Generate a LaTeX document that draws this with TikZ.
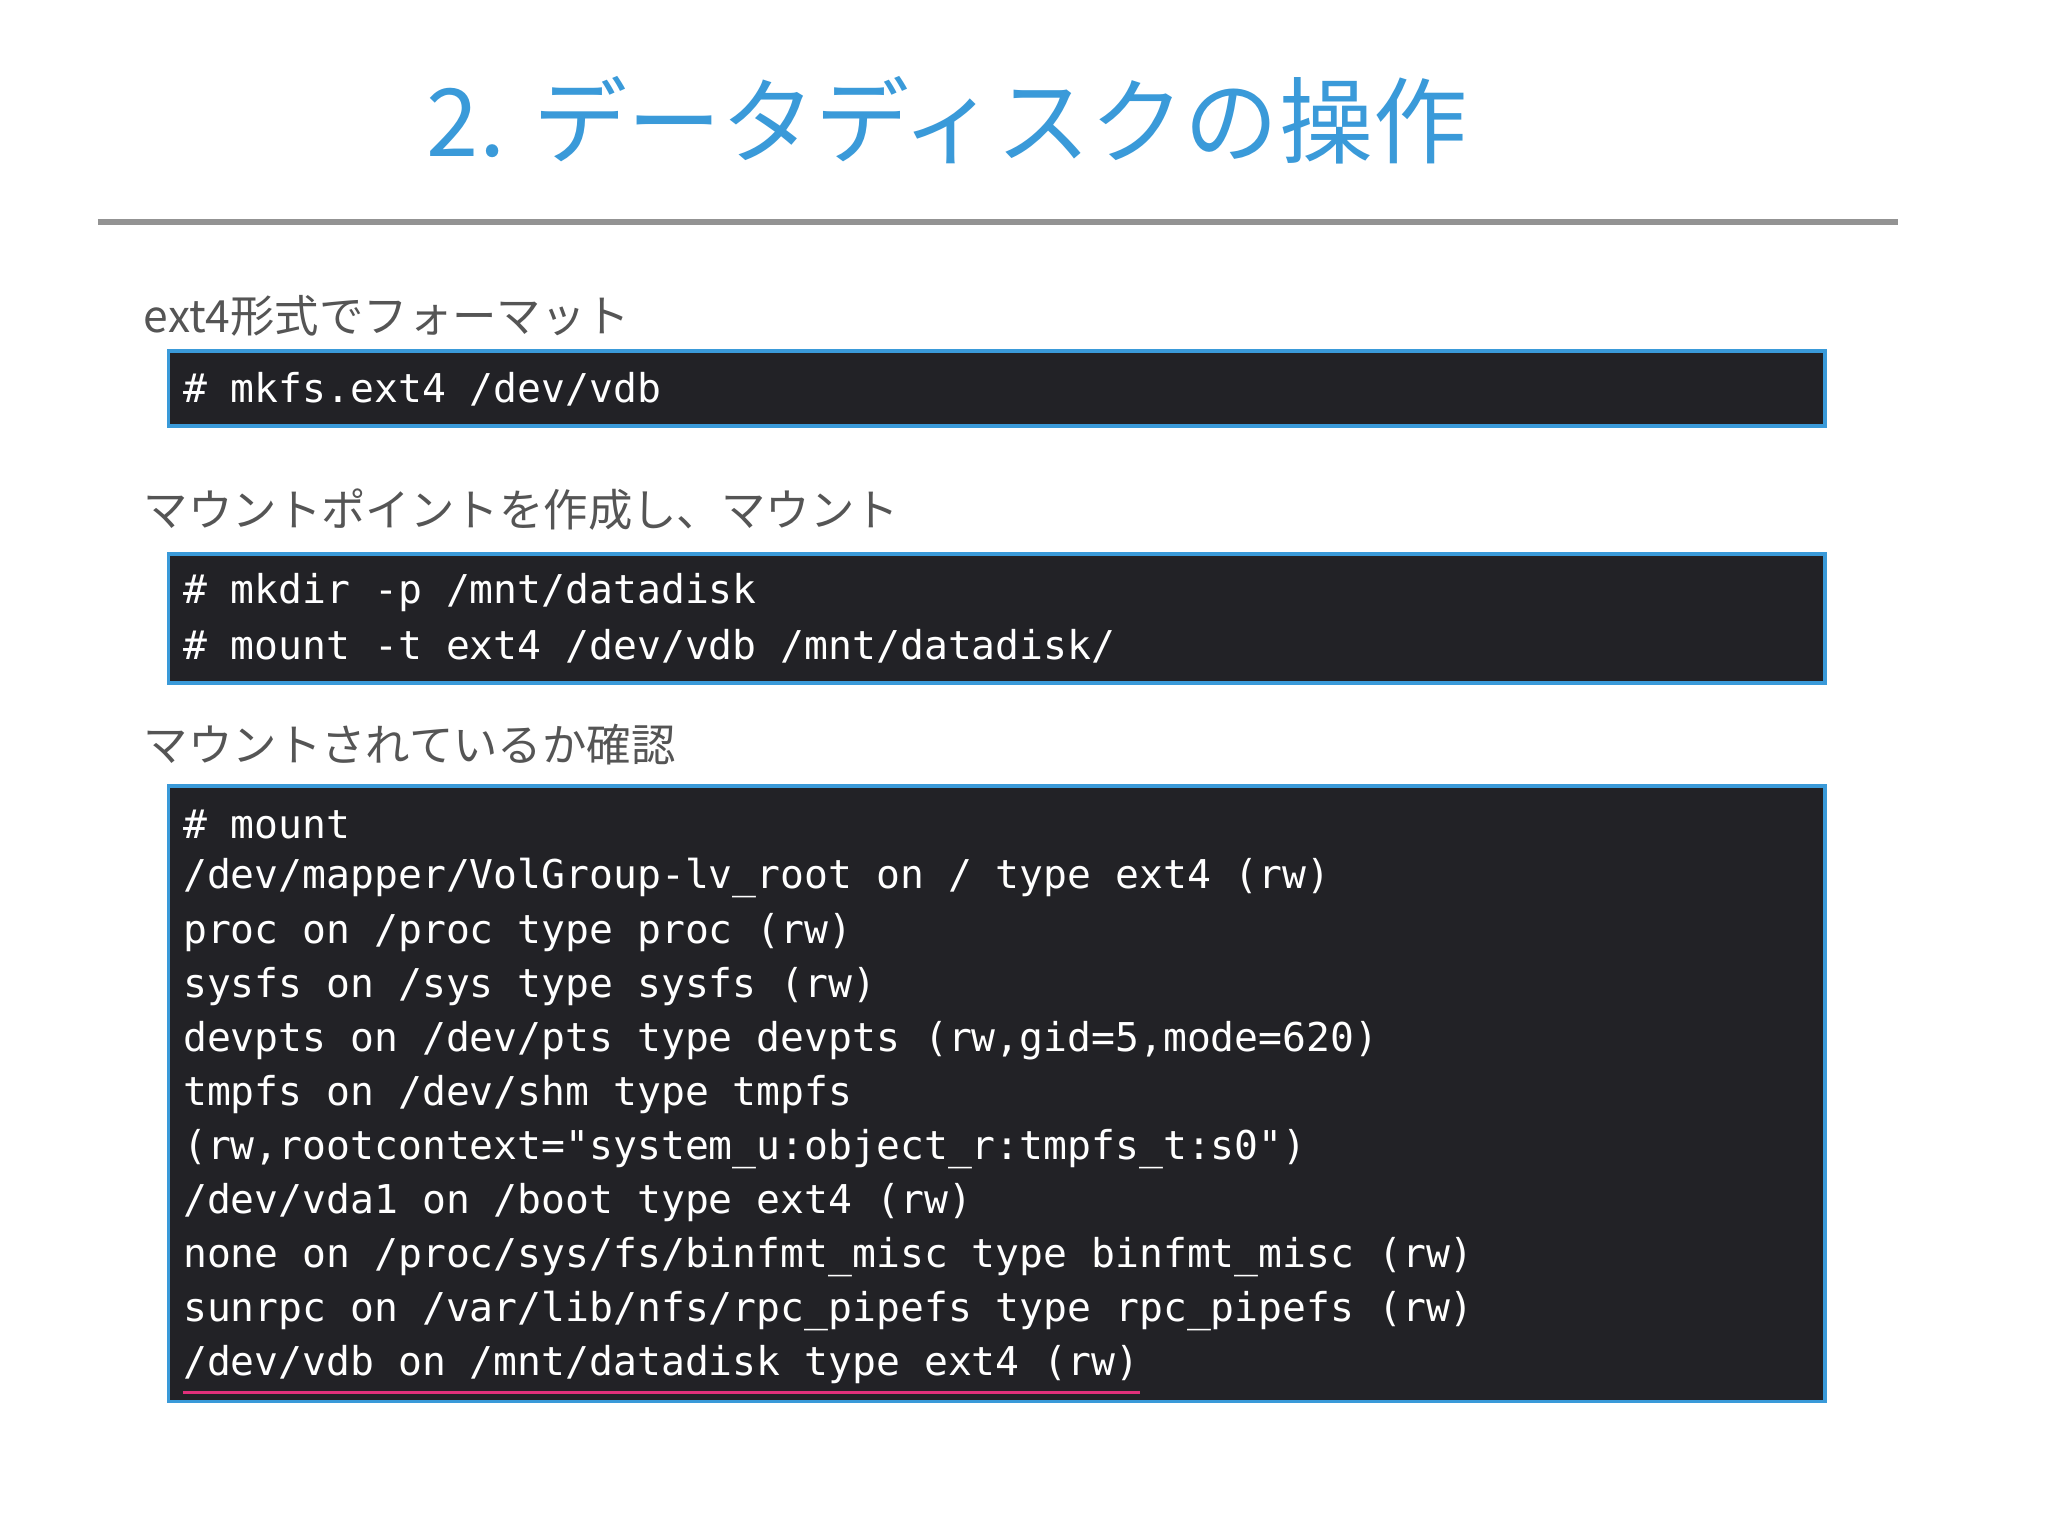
\documentclass[tikz,border=0pt]{standalone}
\usepackage{fontspec}
\newfontfamily\jp{Noto Sans CJK JP}
\newfontfamily\mono{DejaVu Sans Mono}
\definecolor{tblue}{HTML}{3A9AD9}
\definecolor{hgray}{HTML}{555555}
\definecolor{boxbg}{HTML}{222226}
\definecolor{pink}{HTML}{E0307A}
\begin{document}
\begin{tikzpicture}[x=1pt,y=-1pt,
  head/.style={anchor=west,inner sep=0,font=\jp\fontsize{34}{34}\selectfont,text=hgray},
  cbox/.style={draw=tblue,line width=3pt,fill=boxbg},
  code/.style={anchor=west,inner sep=0,font=\mono\fontsize{30.4}{30.4}\selectfont,text=white}]
\useasboundingbox[fill=white] (0,0) rectangle (1568,1176);
\node[inner sep=0,text=tblue,font=\jp\fontsize{72}{72}\selectfont] (title) at (725,92) {2. データディスクの操作};
\draw[gray!85,line width=4pt] (75,170) -- (1453,170);
\node[head] (h1) at (110,242) {ext4形式でフォーマット};
\draw[cbox] (129,269) rectangle (1397,326);
\node[code] (c1) at (140,298) {\# mkfs.ext4 /dev/vdb};
\node[head] (h2) at (110,390) {マウントポイントを作成し、マウント};
\draw[cbox] (129,424) rectangle (1397,523);
\node[code] (c2) at (140,454) {\# mkdir -p /mnt/datadisk};
\node[code] (c3) at (140,495) {\# mount -t ext4 /dev/vdb /mnt/datadisk/};
\node[head] (h3) at (110,570) {マウントされているか確認};
\draw[cbox] (129,602) rectangle (1397,1073);
\foreach \t [count=\i from 0] in {%
 {\# mount},
 {/dev/mapper/VolGroup-lv\_root on / type ext4 (rw)},
 {proc on /proc type proc (rw)},
 {sysfs on /sys type sysfs (rw)},
 {devpts on /dev/pts type devpts (rw,gid=5,mode=620)},
 {tmpfs on /dev/shm type tmpfs},
 {(rw,rootcontext="system\_u:object\_r:tmpfs\_t:s0")},
 {/dev/vda1 on /boot type ext4 (rw)},
 {none on /proc/sys/fs/binfmt\_misc type binfmt\_misc (rw)},
 {sunrpc on /var/lib/nfs/rpc\_pipefs type rpc\_pipefs (rw)},
 {/dev/vdb on /mnt/datadisk type ext4 (rw)}}
 \node[code] (m\i) at (140,631+41.4*\i) {\t};
\draw[pink,line width=2.5pt] (m10.south west) ++(0,6) coordinate (u1) -- (u1 -| m10.east);
\end{tikzpicture}
\end{document}
